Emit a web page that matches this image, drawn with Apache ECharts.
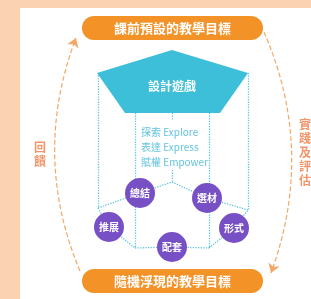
<!DOCTYPE html>
<html><head><meta charset="utf-8">
<script src="https://cdn.jsdelivr.net/npm/echarts@6/dist/echarts.min.js"></script>
<style>html,body{margin:0;padding:0;background:#fcd3b2}#c{width:311px;height:299px}</style>
</head><body><div id="c"></div>
<script>
// ---- data ----
const pillLabels = ['課前預設的教學目標', '隨機浮現的教學目標'];
const pillCenters = [[172.5, 28], [172.5, 281]];
const pentagon = [[172, 50], [248, 73], [220, 113], [125, 113], [97, 73]];
const pentagonLabel = '設計遊戲';
const pentagonLabelPos = [172, 86];
const nodeLabels = ['總結', '選材', '推展', '形式', '配套'];
const nodePos = [[140, 193], [207, 198], [109, 227], [234, 228], [172, 247]];
const ideaLabels = ['探索 Explore', '表達 Express', '賦權 Empower'];
const ideaPos = [[141, 132], [141, 147], [141, 162]];
const sideLabels = ['回饋', '實踐及評估'];
const sidePos = [[40, 154], [305, 152]];
const networkEdges = [
  [[98, 73], [98, 208]], [[248, 73], [248, 210]],
  [[135, 113], [135, 248]], [[209, 113], [209, 248]],
  [[172, 113], [172, 120]], [[172, 170], [172, 182]],
  [[98, 208], [140, 193]], [[140, 193], [172, 182]], [[172, 182], [207, 198]], [[207, 198], [248, 210]],
  [[98, 208], [109, 227]], [[109, 227], [135, 248]], [[135, 248], [172, 247]],
  [[172, 247], [209, 248]], [[209, 248], [234, 228]], [[234, 228], [248, 210]]
];
const arcs = [[[80, 271], [76, 38]], [[264, 32], [271, 273]]];

const CJK = '"Noto Sans CJK TC", "Noto Sans", sans-serif';
const chart = echarts.init(document.getElementById('c'));
chart.setOption({
  animation: false,
  backgroundColor: '#fcd3b2',
  graphic: [{ type: 'rect', z: 0, shape: { x: 20, y: 8, width: 291, height: 291 }, style: { fill: '#ffffff' } }],
  grid: { left: 0, right: 0, top: 0, bottom: 0 },
  xAxis: { type: 'value', min: 0, max: 311, show: false },
  yAxis: { type: 'value', min: 0, max: 299, inverse: true, show: false },
  series: [
    { type: 'lines', coordinateSystem: 'cartesian2d', z: 1, silent: true,
      lineStyle: { color: '#5ec6de', width: 1.3, type: 'dotted', opacity: 1 },
      data: networkEdges.map(e => ({ coords: e })) },
    { type: 'custom', z: 2, data: [pentagonLabelPos.concat([0])],
      renderItem: (params, api) => {
        const pts = pentagon.map(p => api.coord(p));
        const c = api.coord([api.value(0), api.value(1)]);
        return { type: 'group', children: [
          { type: 'polygon', shape: { points: pts }, style: { fill: '#3dbfda' } },
          { type: 'text', style: { text: pentagonLabel, x: c[0], y: c[1], align: 'center', verticalAlign: 'middle',
            fill: '#fff', fontSize: 12, fontWeight: 'bold', fontFamily: CJK } }
        ]};
      } },
    { type: 'custom', z: 3, data: pillCenters.map((c, i) => [c[0], c[1], i]),
      renderItem: (params, api) => {
        const c = api.coord([api.value(0), api.value(1)]);
        const s = api.size([181, 24]);
        return { type: 'group', children: [
          { type: 'rect', shape: { x: c[0] - s[0] / 2, y: c[1] - s[1] / 2, width: s[0], height: s[1], r: s[1] / 2 },
            style: { fill: '#f39226' } },
          { type: 'text', style: { text: pillLabels[api.value(2)], x: c[0], y: c[1], align: 'center', verticalAlign: 'middle',
            fill: '#fff', fontSize: 13, fontWeight: 'bold', fontFamily: CJK } }
        ]};
      } },
    { type: 'scatter', z: 4, symbol: 'circle', symbolSize: 30,
      itemStyle: { color: '#7850c6', opacity: 1 },
      label: { show: true, position: 'inside', formatter: p => nodeLabels[p.dataIndex], color: '#fff',
        fontSize: 10, fontWeight: 'bold', fontFamily: CJK },
      data: nodePos },
    { type: 'scatter', z: 4, symbolSize: 0,
      label: { show: true, position: 'right', distance: 0, formatter: p => ideaLabels[p.dataIndex], color: '#3ab3d5',
        fontSize: 10, fontFamily: CJK },
      data: ideaPos },
    { type: 'scatter', z: 4, symbolSize: 0,
      label: { show: true, position: 'inside', formatter: p => sideLabels[p.dataIndex].split('').join('\n'), color: '#ef7b45',
        fontSize: 12, fontWeight: 'bold', lineHeight: 14, fontFamily: CJK },
      data: sidePos },
    { type: 'lines', coordinateSystem: 'cartesian2d', z: 3, silent: true,
      symbol: ['none', 'arrow'], symbolSize: 9,
      lineStyle: { color: '#f3a867', width: 1.2, type: 'dashed', curveness: 0.2, opacity: 1 },
      data: arcs.map(e => ({ coords: e })) }
  ]
});
</script></body></html>
